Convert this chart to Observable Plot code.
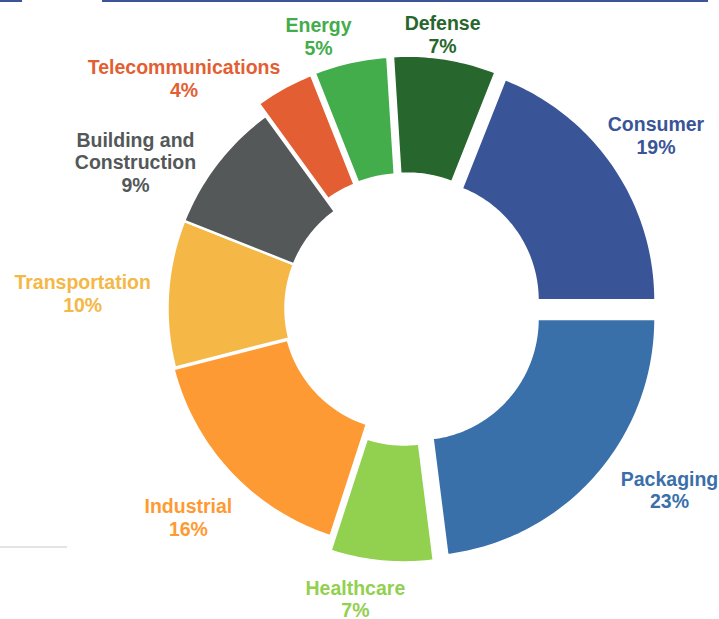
<!DOCTYPE html>
<html>
<head>
<meta charset="utf-8">
<script src="https://cdn.jsdelivr.net/npm/d3@7"></script>
<script src="https://cdn.jsdelivr.net/npm/@observablehq/plot@0.6"></script>
<style>
  html, body { margin: 0; padding: 0; background: #ffffff; }
  #wrap { position: relative; width: 719px; height: 619px; overflow: hidden; }
  #wrap svg { position: absolute; left: 0; top: 0; }
  .deco { position: absolute; z-index: 2; }
</style>
</head>
<body>
<div id="wrap">
  <div class="deco" style="left:0;top:0;width:22px;height:2px;background:#3B5598;"></div>
  <div class="deco" style="left:102px;top:0;width:606px;height:2px;background:#3B5598;"></div>
  <div class="deco" style="left:0;top:546px;width:67px;height:2px;background:#e4e4e4;"></div>
</div>
<script>
// ---------- data ----------
const categories = ["Defense", "Consumer", "Packaging", "Healthcare", "Industrial",
                    "Transportation", "Building and\nConstruction", "Telecommunications", "Energy"];
const shares = [7, 19, 23, 7, 16, 10, 9, 4, 5];   // percent
const colors = ["#27672D", "#3A5597", "#3A70AA", "#92D050", "#FE9A33",
                "#F5B746", "#545859", "#E35F33", "#43AC4B"];

// ---------- layout / style ----------
const W = 719, H = 619;
const cx = 405, cy = 308;          // donut centre in pixels
const R = 238, r = 120;            // outer / inner radius
const firstSliceAngle = 356.4;     // degrees, clockwise from 12 o'clock
const explode = [15, 14.5, 16, 16, 2, 0, 0, 14, 14.5];   // pixel offset of each slice
// label placement: [angle nudge in degrees, distance from centre relative to R]
const labelLayout = [[-1.3, 1.164], [-0.5, 1.28], [-6.9, 1.346], [4.4, 1.237], [-0.7, 1.266],
                     [-0.9, 1.358], [-9.3, 1.291], [-15.1, 1.342], [-5.1, 1.202]];

const rad = d => d * Math.PI / 180;
const total = d3.sum(shares);

const arcs = [];
const labels = [];
let acc = 0;
categories.forEach((c, i) => {
  const a0 = firstSliceAngle + acc / total * 360;
  acc += shares[i];
  const a1 = firstSliceAngle + acc / total * 360;
  const mid = (a0 + a1) / 2;
  const ox = explode[i] * Math.sin(rad(mid));
  const oy = -explode[i] * Math.cos(rad(mid));
  const n = Math.max(8, Math.ceil(a1 - a0));
  for (let k = 0; k <= n; k++) {
    const a = rad(a0 + (a1 - a0) * k / n);
    arcs.push({category: c, x: ox + R * Math.sin(a), y: oy - R * Math.cos(a)});
  }
  for (let k = n; k >= 0; k--) {
    const a = rad(a0 + (a1 - a0) * k / n);
    arcs.push({category: c, x: ox + r * Math.sin(a), y: oy - r * Math.cos(a)});
  }
  const la = rad(mid + labelLayout[i][0]);
  const ld = labelLayout[i][1] * R;
  labels.push({category: c, text: `${c}\n${shares[i]}%`, x: ld * Math.sin(la), y: -ld * Math.cos(la)});
});

const chart = Plot.plot({
  width: W,
  height: H,
  margin: 0,
  x: {domain: [-cx, W - cx], range: [0, W], axis: null},
  y: {domain: [-cy, H - cy], range: [0, H], axis: null},
  color: {domain: categories, range: colors},
  style: {background: "transparent"},
  marks: [
    Plot.line(arcs, {
      x: "x", y: "y", z: "category", fill: "category",
      stroke: "white", strokeWidth: 2.5, curve: "linear-closed"
    }),
    Plot.text(labels, {
      x: "x", y: "y", text: "text", fill: "category",
      fontSize: 19.5, fontWeight: "bold", lineHeight: 1.16,
      fontFamily: "'Liberation Sans', Arial, sans-serif"
    })
  ]
});
document.getElementById("wrap").prepend(chart);
</script>
</body>
</html>
